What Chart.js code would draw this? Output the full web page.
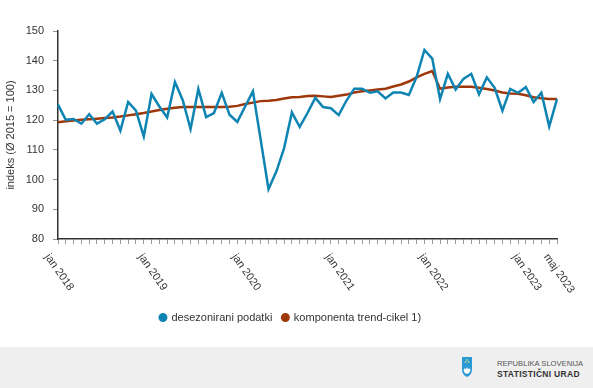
<!DOCTYPE html>
<html>
<head>
<meta charset="utf-8">
<script src="https://cdn.jsdelivr.net/npm/chart.js@4"></script>
<style>
	body { margin: 0; background: #fff; font-family: "Liberation Sans", Arial, sans-serif; }
	#wrap { position: relative; width: 593px; height: 347px; }
	#footer { position: relative; width: 593px; height: 41px; background: #efefef; }
	#footer svg { position: absolute; left: 462px; top: 10px; }
	#footer .t1 { position: absolute; left: 497px; top: 12px; font-size: 7.6px; color: #555; white-space: nowrap; }
	#footer .t2 { position: absolute; left: 497px; top: 22px; font-size: 8.5px; font-weight: bold; letter-spacing: 0.3px; color: #333; white-space: nowrap; }
</style>
</head>
<body>
<div id="wrap"><canvas id="chart"></canvas></div>
<div id="footer">
	<svg width="10" height="20" viewBox="0 0 10 20">
		<path d="M0 0 H10 V12 Q10 18 5 20 Q0 18 0 12 Z" fill="#2a9ad6" />
		<path d="M1.5 13 L3 11 L4 12.5 L5 10 L6 12.5 L7 11 L8.5 13 Q8 16 5 17 Q2 16 1.5 13 Z" fill="#fff" />
		<circle cx="5" cy="3" r="0.8" fill="#ffe46b" />
		<circle cx="3.5" cy="5" r="0.8" fill="#ffe46b" />
		<circle cx="6.5" cy="5" r="0.8" fill="#ffe46b" />
	</svg>
	<div class="t1">REPUBLIKA SLOVENIJA</div>
	<div class="t2">STATISTIČNI URAD</div>
</div>
<script>
const monthNames = ["jan", "feb", "mar", "apr", "maj", "jun", "jul", "avg", "sep", "okt", "nov", "dec"];
const years = [2018, 2019, 2020, 2021, 2022, 2023];
const lastMonth = 4; // maj 2023

const categories = [];
years.forEach((y) => {
	monthNames.forEach((m, i) => {
		if (y < 2023 || i <= lastMonth) categories.push(m + " " + y);
	});
});

const tickLabels = ["jan 2018", "jan 2019", "jan 2020", "jan 2021", "jan 2022", "jan 2023", "maj 2023"];

const seasonallyAdjusted = [
	125.2, 120.1, 120.4, 118.8, 122.0, 118.8, 120.3, 122.9, 116.5, 126.1, 123.2, 114.5,
	128.8, 124.6, 120.9, 132.8, 126.7, 117.0, 130.5, 121.0, 122.4, 129.2, 121.8, 119.4,
	124.6, 129.7, 113.3, 96.8, 102.7, 110.6, 122.6, 117.7, 122.4, 127.5, 124.4, 124.0,
	121.7, 126.6, 130.6, 130.6, 129.2, 129.7, 127.3, 129.3, 129.3, 128.5, 134.6, 143.6,
	140.7, 127.1, 135.6, 130.3, 133.9, 135.6, 128.7, 134.4, 130.9, 123.2, 130.5, 129.2,
	131.1, 126.1, 129.2, 117.9, 127.1,
];

const trendCycle = [
	119.3, 119.6, 119.9, 120.1, 120.3, 120.5, 120.7, 120.9, 121.2, 121.6, 122.0, 122.4,
	122.9, 123.4, 123.8, 124.2, 124.4, 124.4, 124.4, 124.4, 124.4, 124.4, 124.5, 124.8,
	125.4, 125.9, 126.4, 126.5, 126.8, 127.3, 127.7, 127.8, 128.1, 128.2, 128.0, 127.8,
	128.2, 128.6, 129.3, 129.7, 130.0, 130.3, 130.6, 131.3, 132.0, 133.0, 134.4, 135.6,
	136.5, 130.6, 131.0, 131.2, 131.2, 131.2, 130.9, 130.5, 130.0, 129.3, 129.0, 128.9,
	128.4, 127.7, 127.4, 127.1, 127.1,
];

const seriesNames = ["desezonirani podatki", "komponenta trend-cikel 1)"];
const yTitle = "indeks (Ø 2015 = 100)";

const blue = "#0d84b2";
const brown = "#9e3709";
const textColor = "#333";

// rotated month labels under the x axis (clockwise, like the original)
const xLabels = {
	id: "xLabels",
	afterDraw(chart) {
		const { ctx } = chart;
		const xs = chart.scales.x;
		ctx.save();
		ctx.font = "11px 'Liberation Sans', Arial, sans-serif";
		ctx.fillStyle = textColor;
		ctx.textAlign = "left";
		ctx.textBaseline = "middle";
		categories.forEach((c, i) => {
			if (!tickLabels.includes(c)) return;
			const x = xs.getPixelForValue(i);
			ctx.save();
			ctx.translate(x - 11, xs.top + 16);
			ctx.rotate((55 * Math.PI) / 180);
			ctx.fillText(c, 0, 0);
			ctx.restore();
		});
		ctx.restore();
	},
};

const legendShift = {
	id: "legendShift",
	afterLayout(chart) {
		chart.legend.left += 12;
		chart.legend.right += 12;
	},
};

new Chart(document.getElementById("chart"), {
	type: "line",
	data: {
		labels: categories,
		datasets: [
			{
				label: seriesNames[0],
				data: seasonallyAdjusted,
				borderColor: blue,
				backgroundColor: blue,
				borderWidth: 2.5,
				pointRadius: 0,
				tension: 0,
			},
			{
				label: seriesNames[1],
				data: trendCycle,
				borderColor: brown,
				backgroundColor: brown,
				borderWidth: 2.5,
				pointRadius: 0,
				tension: 0,
			},
		],
	},
	options: {
		responsive: true,
		maintainAspectRatio: false,
		animation: false,
		layout: {
			padding: { top: 31, right: 36, bottom: 14, left: 0 },
		},
		plugins: {
			tooltip: { enabled: false },
			legend: {
				position: "bottom",
				labels: {
					usePointStyle: true,
					pointStyle: "circle",
					boxWidth: 6,
					boxHeight: 4.6,
					color: textColor,
					font: { size: 11, family: "'Liberation Sans', Arial, sans-serif" },
					padding: 10,
				},
			},
		},
		scales: {
			x: {
				type: "category",
				offset: false,
				grid: { drawOnChartArea: false, drawTicks: true, tickLength: 5, color: "#999" },
				border: { display: true, color: "#333", width: 1.5 },
				ticks: { autoSkip: false, maxRotation: 0, callback: () => "" },
				afterFit: (s) => {
					s.height = 63;
				},
			},
			y: {
				min: 80,
				max: 150,
				grid: { drawOnChartArea: false, drawTicks: true, tickLength: 5, color: "#999" },
				border: { display: true, color: "#333", width: 1.5 },
				ticks: {
					stepSize: 10,
					color: textColor,
					padding: 9,
					font: { size: 11, family: "'Liberation Sans', Arial, sans-serif" },
				},
				title: {
					display: true,
					text: yTitle,
					color: textColor,
					font: { size: 11, family: "'Liberation Sans', Arial, sans-serif" },
					padding: { top: 4, bottom: 0 },
				},
				afterFit: (s) => {
					s.width = 58;
				},
			},
		},
	},
	plugins: [xLabels, legendShift],
});
</script>
</body>
</html>
